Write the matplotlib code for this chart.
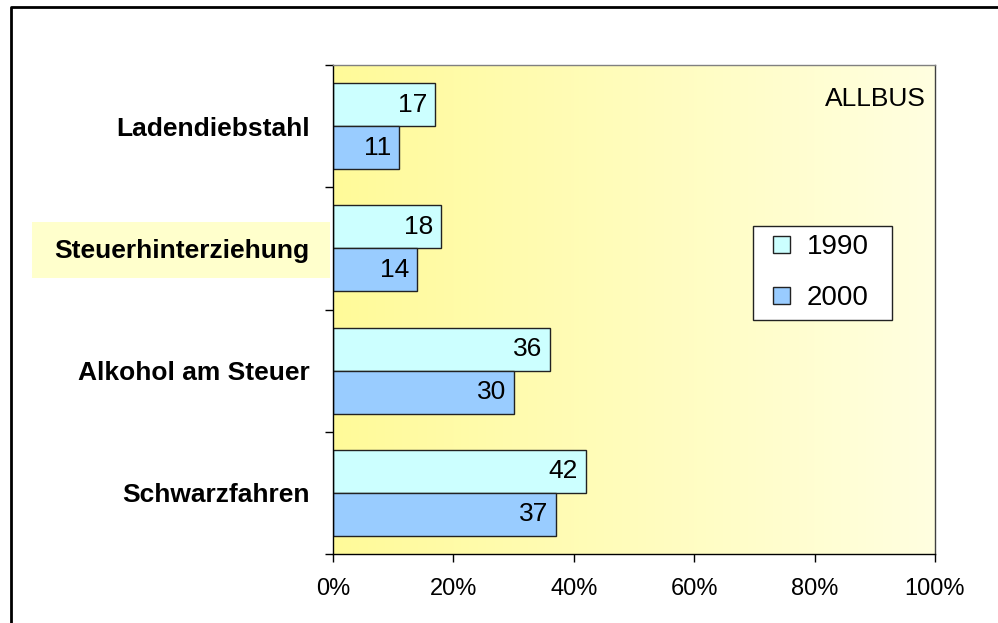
import numpy as np
import matplotlib.pyplot as plt
from matplotlib.patches import Rectangle
from matplotlib.lines import Line2D
from matplotlib.colors import LinearSegmentedColormap
from matplotlib.legend_handler import HandlerPatch
from matplotlib.container import BarContainer

plt.rcParams['font.family'] = ['Liberation Sans', 'DejaVu Sans']

# Daten
kategorien = ['Ladendiebstahl', 'Steuerhinterziehung', 'Alkohol am Steuer', 'Schwarzfahren']
werte_1990 = [17, 18, 36, 42]
werte_2000 = [11, 14, 30, 37]
jahre = ['1990', '2000']
x_ticks = [0, 20, 40, 60, 80, 100]
x_labels = ['0%', '20%', '40%', '60%', '80%', '100%']

W, H = 998, 623
fig = plt.figure(figsize=(W / 100, H / 100), dpi=100)
ax = fig.add_axes([333 / W, 1 - 554 / H, (935 - 333) / W, (554 - 65) / H])

# Hintergrund mit Farbverlauf (gelb -> hell)
cmap = LinearSegmentedColormap.from_list('bg', ['#FFFA99', '#FFFFE0'])
grad = np.linspace(0, 1, 256).reshape(1, -1)
ax.imshow(grad, cmap=cmap, aspect='auto', extent=[0, 100, 3.5, -0.5], zorder=0)

y = np.arange(len(kategorien))
h = 0.352
b1 = ax.barh(y - h / 2, werte_1990, height=h, color='#CCFFFF', edgecolor='#222222',
             linewidth=1, label=jahre[0], zorder=2)
b2 = ax.barh(y + h / 2, werte_2000, height=h, color='#99CCFF', edgecolor='#222222',
             linewidth=1, label=jahre[1], zorder=2)

for bars, vals in [(b1, werte_1990), (b2, werte_2000)]:
    for bar, v in zip(bars, vals):
        ax.text(v - 1.3, bar.get_y() + bar.get_height() / 2, str(v),
                ha='right', va='center', fontsize=19, zorder=3)

ax.set_xlim(0, 100)
ax.set_ylim(3.5, -0.5)
ax.set_xticks(x_ticks)
ax.set_xticklabels(x_labels, fontsize=17)
ax.set_yticks(y)
ax.set_yticklabels(kategorien, fontsize=19, fontweight='bold')
ax.set_yticks(np.arange(-0.5, 4, 1), minor=True)
ax.tick_params(axis='y', which='major', length=0, pad=17)
ax.tick_params(axis='y', which='minor', length=6, width=1, color='black')
ax.tick_params(axis='x', length=6, width=1, pad=11)

ax.spines['left'].set_color('black')
ax.spines['bottom'].set_color('black')
ax.spines['top'].set_color('#808080')
ax.spines['right'].set_color('#404040')
for s in ax.spines.values():
    s.set_linewidth(1)

ax.text(0.985, 0.955, 'ALLBUS', transform=ax.transAxes, ha='right', va='top', fontsize=19)


# quadratisches Legendensymbol, rechts im Handle-Bereich
def quadrat(legend, orig_handle, xdescent, ydescent, width, height, fontsize):
    return Rectangle((-xdescent + width - height, -ydescent), height, height)


def erstes_kind(tgt, src):
    tgt.update_from(src.get_children()[0])


leg = fig.legend(loc='upper left', bbox_to_anchor=(753 / W, 1 - 320 / H, 139 / W, 94 / H),
                 mode='expand', fontsize=20,
                 frameon=True, fancybox=False, edgecolor='#222222', framealpha=1,
                 handlelength=1.03, handleheight=0.54, handletextpad=0.6,
                 labelspacing=0.9, borderpad=0.3, borderaxespad=0,
                 handler_map={BarContainer: HandlerPatch(patch_func=quadrat,
                                                         update_func=erstes_kind)})
leg.get_frame().set_linewidth(1)

# Hervorhebung Steuerhinterziehung
fig.patches.append(Rectangle((32 / W, 1 - 278 / H), (330 - 32) / W, 56 / H,
                             transform=fig.transFigure, facecolor='#FFFFCC',
                             edgecolor='none', zorder=-1))

# Rahmen (links und oben)
fig.lines.append(Line2D([11 / W, 11 / W, 1], [0, 1 - 7 / H, 1 - 7 / H],
                        transform=fig.transFigure, color='black', linewidth=2))

fig.savefig('out.png', dpi=100)
